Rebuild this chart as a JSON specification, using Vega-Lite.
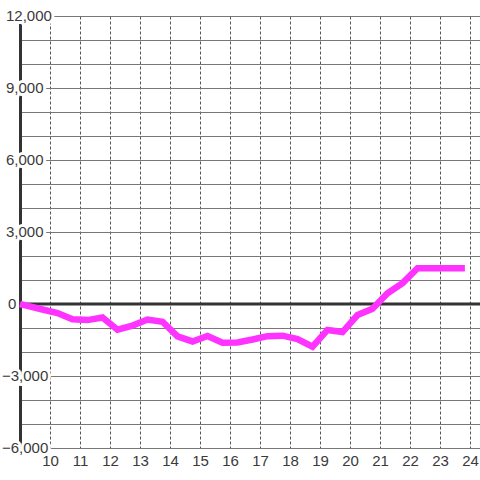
{
  "$schema": "https://vega.github.io/schema/vega-lite/v6.json",
  "width": 460,
  "height": 432,
  "autosize": {"type": "none"},
  "padding": {"left": 20, "top": 16, "right": 0, "bottom": 32},
  "background": "white",
  "config": {"view": {"stroke": null}, "font": "Liberation Sans"},
  "datasets": {
    "ylabels": [{"v": -6000}, {"v": -3000}, {"v": 0}, {"v": 3000}, {"v": 6000}, {"v": 9000}, {"v": 12000}]
  },
  "encoding": {
    "x": {
      "type": "quantitative",
      "scale": {"domain": [9, 24.3333], "nice": false, "zero": false},
      "axis": {
        "title": null, "orient": "bottom",
        "values": [10, 11, 12, 13, 14, 15, 16, 17, 18, 19, 20, 21, 22, 23, 24],
        "grid": true, "gridColor": "#555555", "gridDash": [3, 2], "gridWidth": 1, "gridOpacity": 1,
        "domain": false, "ticks": false,
        "labelFont": "Liberation Sans", "labelFontSize": 15, "labelColor": "#3a3a3a", "labelPadding": 5,
        "labelFlush": false, "labelOverlap": false
      }
    },
    "y": {
      "type": "quantitative",
      "scale": {"domain": [-6000, 12000], "nice": false, "zero": false},
      "axis": {
        "title": null,
        "values": [-6000, -5000, -4000, -3000, -2000, -1000, 0, 1000, 2000, 3000, 4000, 5000, 6000, 7000, 8000, 9000, 10000, 11000, 12000],
        "grid": true, "gridColor": "#777777", "gridWidth": 1, "gridOpacity": 1,
        "domain": true, "domainColor": "#333333", "domainWidth": 3,
        "ticks": false, "labels": false
      }
    }
  },
  "layer": [
    {
      "data": {"name": "ylabels"},
      "transform": [{"filter": "datum.v > 0"}],
      "mark": {"type": "text", "align": "left", "baseline": "middle", "dx": -14, "font": "Liberation Sans", "fontSize": 15, "fill": "white", "stroke": "white", "strokeWidth": 6, "strokeJoin": "round"},
      "encoding": {"x": {"datum": 9}, "y": {"field": "v"}, "text": {"field": "v", "type": "quantitative", "format": ","}}
    },
    {
      "data": {"name": "ylabels"},
      "transform": [{"filter": "datum.v < 0"}],
      "mark": {"type": "text", "align": "left", "baseline": "middle", "dx": -18, "font": "Liberation Sans", "fontSize": 15, "fill": "white", "stroke": "white", "strokeWidth": 6, "strokeJoin": "round"},
      "encoding": {"x": {"datum": 9}, "y": {"field": "v"}, "text": {"field": "v", "type": "quantitative", "format": ","}}
    },
    {
      "data": {"name": "ylabels"},
      "transform": [{"filter": "datum.v == 0"}],
      "mark": {"type": "text", "align": "left", "baseline": "middle", "dx": -12, "font": "Liberation Sans", "fontSize": 15, "fill": "white", "stroke": "white", "strokeWidth": 6, "strokeJoin": "round"},
      "encoding": {"x": {"datum": 9}, "y": {"field": "v"}, "text": {"field": "v", "type": "quantitative", "format": ","}}
    },
    {
      "data": {"name": "ylabels"},
      "transform": [{"filter": "datum.v > 0"}],
      "mark": {"type": "text", "align": "left", "baseline": "middle", "dx": -14, "font": "Liberation Sans", "fontSize": 15, "fill": "#3a3a3a"},
      "encoding": {"x": {"datum": 9}, "y": {"field": "v"}, "text": {"field": "v", "type": "quantitative", "format": ","}}
    },
    {
      "data": {"name": "ylabels"},
      "transform": [{"filter": "datum.v < 0"}],
      "mark": {"type": "text", "align": "left", "baseline": "middle", "dx": -18, "font": "Liberation Sans", "fontSize": 15, "fill": "#3a3a3a"},
      "encoding": {"x": {"datum": 9}, "y": {"field": "v"}, "text": {"field": "v", "type": "quantitative", "format": ","}}
    },
    {
      "data": {"name": "ylabels"},
      "transform": [{"filter": "datum.v == 0"}],
      "mark": {"type": "text", "align": "left", "baseline": "middle", "dx": -12, "font": "Liberation Sans", "fontSize": 15, "fill": "#3a3a3a"},
      "encoding": {"x": {"datum": 9}, "y": {"field": "v"}, "text": {"field": "v", "type": "quantitative", "format": ","}}
    },
    {
      "data": {"values": [{"v": 0}]},
      "mark": {"type": "rule", "color": "#333333", "strokeWidth": 3},
      "encoding": {"y": {"field": "v"}}
    },
    {
      "data": {"values": [
        {"t": 9.0, "v": 0},
        {"t": 9.25, "v": -80},
        {"t": 9.75, "v": -230},
        {"t": 10.25, "v": -380},
        {"t": 10.75, "v": -640},
        {"t": 11.25, "v": -670},
        {"t": 11.75, "v": -560},
        {"t": 12.25, "v": -1070},
        {"t": 12.75, "v": -900},
        {"t": 13.25, "v": -650},
        {"t": 13.75, "v": -740},
        {"t": 14.25, "v": -1350},
        {"t": 14.75, "v": -1560},
        {"t": 15.25, "v": -1330},
        {"t": 15.75, "v": -1610},
        {"t": 16.25, "v": -1600},
        {"t": 16.75, "v": -1480},
        {"t": 17.25, "v": -1340},
        {"t": 17.75, "v": -1320},
        {"t": 18.25, "v": -1460},
        {"t": 18.75, "v": -1780},
        {"t": 19.25, "v": -1080},
        {"t": 19.75, "v": -1170},
        {"t": 20.25, "v": -460},
        {"t": 20.75, "v": -200},
        {"t": 21.25, "v": 450},
        {"t": 21.75, "v": 870},
        {"t": 22.25, "v": 1490},
        {"t": 22.75, "v": 1490},
        {"t": 23.25, "v": 1490},
        {"t": 23.83, "v": 1490}
      ]},
      "mark": {"type": "line", "color": "#ff33ff", "strokeWidth": 6.5, "strokeJoin": "miter", "strokeCap": "butt"},
      "encoding": {"x": {"field": "t"}, "y": {"field": "v"}}
    }
  ]
}
